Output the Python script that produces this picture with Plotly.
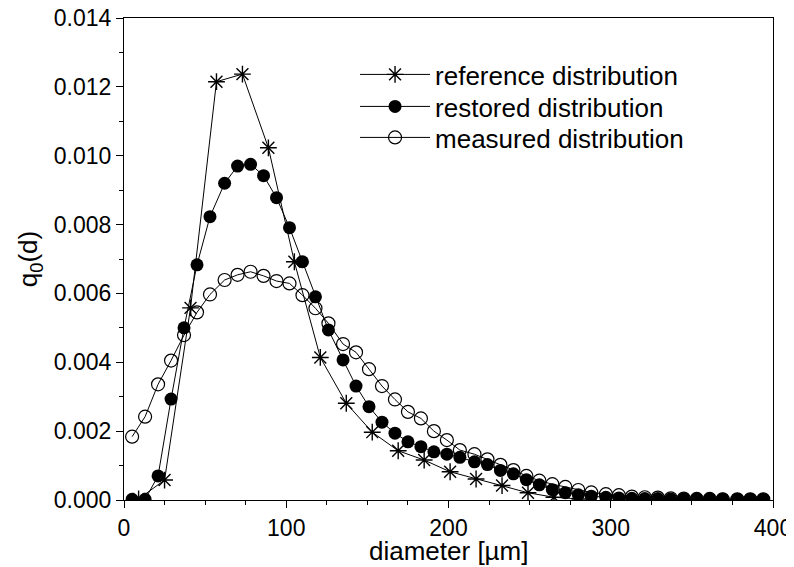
import plotly.graph_objects as go

# diameters of the measured / restored distribution classes [µm]
d_circ = [5, 13, 21, 29, 37, 45, 53, 62, 70, 78, 86, 94, 102, 110, 118, 126, 135, 143,
          151, 159, 167, 175, 183, 191, 199, 207, 216, 224, 232, 240, 248, 256, 264, 272,
          280, 288, 297, 305, 313, 321, 329, 337, 345, 353, 361, 369, 378, 386, 394]

restored = [0.00002, 0.00002, 0.0007, 0.00293, 0.0050, 0.00683, 0.00823, 0.0092, 0.0097,
            0.00975, 0.00942, 0.00878, 0.00791, 0.00692, 0.0059, 0.00494, 0.00407, 0.00331,
            0.00271, 0.00226, 0.00194, 0.00169, 0.00155, 0.0014, 0.00133, 0.00124, 0.00111,
            0.00103, 0.00086, 0.00076, 0.00059, 0.00044, 0.0003, 0.00021, 0.00015, 0.00011,
            0.00008, 0.00006, 0.00005, 0.00004, 0.00004, 0.00003, 0.00003, 0.00003, 0.00003,
            0.00003, 0.00002, 0.00002, 0.00002]

measured = [0.00184, 0.00242, 0.00336, 0.00405, 0.00479, 0.00545, 0.00597, 0.00639, 0.00654,
            0.00663, 0.00651, 0.00636, 0.00629, 0.00595, 0.00557, 0.00513, 0.00453, 0.00429,
            0.0038, 0.00331, 0.00292, 0.00256, 0.00237, 0.002, 0.00174, 0.00145, 0.00133,
            0.00118, 0.00102, 0.00087, 0.0007, 0.00056, 0.00046, 0.00038, 0.00029, 0.00022,
            0.00017, 0.00014, 0.0001, 0.00008, 0.00007, 0.00005, 0.00004, 0.00003, 0.00003,
            0.00002, 0.00002, 0.00002, 0.00002]

d_ref = [9, 25, 41, 57, 73, 89, 105, 121, 137, 153, 169, 185, 201, 217, 233, 249, 265, 281]
reference = [0.00003, 0.00058, 0.00558, 0.01215, 0.01237, 0.01023, 0.00692, 0.00414, 0.00281,
             0.00197, 0.00143, 0.00116, 0.00082, 0.00061, 0.00042, 0.00021, 0.00008, 0.00003]

x_ticks = [0, 100, 200, 300, 400]
y_ticks = [0.000, 0.002, 0.004, 0.006, 0.008, 0.010, 0.012, 0.014]

FONT = "Liberation Sans, Arial, sans-serif"

fig = go.Figure()
fig.add_trace(go.Scatter(
    x=d_ref, y=reference, mode="lines+markers", name="reference distribution",
    legend="legend",
    line=dict(color="black", width=1),
    marker=dict(symbol="asterisk-open", size=14, color="black", line=dict(color="black", width=1.4)),
))
fig.add_trace(go.Scatter(
    x=d_circ, y=restored, mode="lines+markers", name="restored distribution",
    legend="legend2",
    line=dict(color="black", width=1),
    marker=dict(symbol="circle", size=13, color="black", line=dict(color="black", width=0)),
))
fig.add_trace(go.Scatter(
    x=d_circ, y=measured, mode="lines+markers", name="measured distribution",
    legend="legend3",
    line=dict(color="black", width=1),
    marker=dict(symbol="circle-open", size=13, color="black", line=dict(color="black", width=1.2)),
))

def leg(y):
    return dict(
        x=0.356, y=y, xanchor="left", yanchor="top",
        bgcolor="rgba(0,0,0,0)", borderwidth=0,
        font=dict(family=FONT, size=26, color="black"),
        itemwidth=70,
    )

fig.update_layout(
    width=794, height=567,
    margin=dict(l=116, r=29, t=10, b=75, autoexpand=False),
    paper_bgcolor="white", plot_bgcolor="white",
    font=dict(family=FONT, size=23, color="black"),
    showlegend=True,
    legend=leg(0.9315),
    legend2=leg(0.8651),
    legend3=leg(0.8008),
    xaxis=dict(
        range=[0, 400], tickmode="array", tickvals=x_ticks,
        ticktext=[str(v) for v in x_ticks], automargin=False, ticklabeloverflow="allow",
        ticks="outside", ticklen=7, tickwidth=1, tickcolor="black",
        minor=dict(dtick=25, ticks="outside", ticklen=4, tickcolor="black"),
        showline=True, linecolor="black", linewidth=1.2, mirror=True,
        showgrid=False, zeroline=False,
    ),
    yaxis=dict(
        range=[0, 0.014], tickmode="array", tickvals=y_ticks,
        ticktext=[f"{v:.3f}" for v in y_ticks], automargin=False, ticklabeloverflow="allow",
        ticks="outside", ticklen=7, tickwidth=1, tickcolor="black",
        minor=dict(dtick=0.001, ticks="outside", ticklen=4, tickcolor="black"),
        showline=True, linecolor="black", linewidth=1.2, mirror=True,
        showgrid=False, zeroline=False,
        title=dict(text="q<sub>0</sub>(d)", font=dict(family=FONT, size=26), standoff=8),
    ),
    annotations=[dict(
        text="diameter [µm]", xref="paper", yref="paper", x=0.5, y=-0.106,
        xanchor="center", yanchor="middle", showarrow=False,
        font=dict(family=FONT, size=26, color="black"),
    )],
)

fig.write_html("out.html")
